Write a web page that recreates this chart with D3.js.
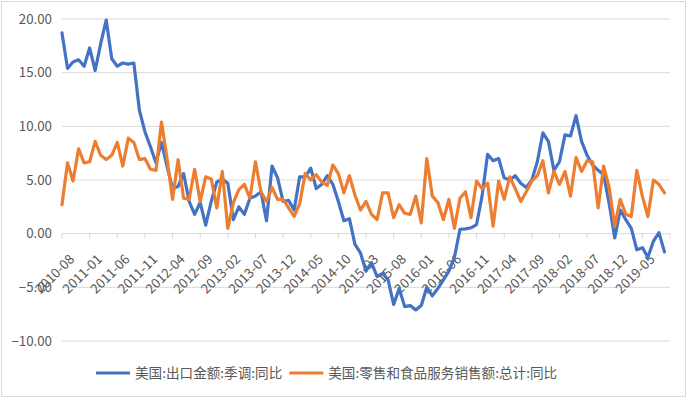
<!DOCTYPE html>
<html>
<head>
<meta charset="utf-8">
<script src="https://cdn.jsdelivr.net/npm/d3@7"></script>
<style>
body{margin:0;background:#fff;}
.chart text{font-family:"Noto Sans CJK SC","Noto Sans",sans-serif;fill:#595959;}
</style>
</head>
<body>
<div class="chart"></div>
<script>
//Data: monthly YoY %, 2010-08 .. 2019-09 (axis runs to 2019-10, empty)
const months = d3.timeMonth.range(new Date(2010,7,1), new Date(2019,10,1)).map(d3.timeFormat('%Y-%m'));

const exportYoY = [
	18.7,15.4,16.0,16.2,15.6,17.3,15.2,17.7,19.9,16.3,
	15.6,15.9,15.8,15.9,11.5,9.5,8.1,6.6,8.5,6.3,
	4.2,4.4,5.6,3.0,1.8,2.9,0.8,3.0,4.8,5.1,
	4.7,1.3,2.5,1.8,3.3,3.5,3.9,1.2,6.3,5.2,
	3.0,3.1,2.2,5.3,5.3,6.1,4.2,4.6,5.4,4.6,
	3.0,1.2,1.4,-1.0,-1.8,-3.5,-2.7,-4.0,-3.7,-4.3,
	-6.6,-5.1,-6.8,-6.7,-7.1,-6.7,-5.0,-5.8,-5.1,-4.3,
	-3.5,-2.2,0.4,0.45,0.55,0.85,3.5,7.4,6.8,7.0,
	5.2,5.0,5.4,4.7,4.3,5.0,6.7,9.4,8.6,5.9,
	6.7,9.2,9.1,11.0,8.6,7.3,6.4,5.9,5.5,2.8,
	-0.4,2.2,1.3,0.5,-1.5,-1.3,-2.2,-0.7,0.1,-1.7
];

const retailYoY = [
	2.7,6.6,4.9,7.9,6.6,6.7,8.6,7.3,6.9,7.3,
	8.5,6.3,8.9,8.5,6.9,7.0,6.0,5.9,10.4,7.0,
	3.2,6.9,3.3,3.2,6.0,3.0,5.3,5.1,2.4,5.8,
	0.5,2.9,4.1,4.6,3.3,6.7,3.9,3.0,4.3,3.2,
	3.2,2.4,1.6,2.8,5.6,5.0,5.5,4.8,4.5,6.4,
	5.6,3.8,5.4,3.6,2.2,3.0,1.8,1.3,3.8,3.8,
	1.5,2.7,1.9,1.8,3.5,1.0,7.0,3.5,2.9,1.3,
	3.2,0.5,3.3,3.9,1.5,4.9,4.2,4.7,0.7,4.9,
	3.2,5.3,4.2,3.0,3.9,4.9,5.4,6.8,3.8,5.8,
	4.6,5.8,3.5,7.1,5.8,6.8,6.7,2.4,6.3,4.3,
	0.7,3.2,1.8,1.6,5.9,3.5,1.6,5.0,4.6,3.8
];

const tickLabels = ['2010-08','2011-01','2011-06','2011-11','2012-04','2012-09','2013-02','2013-07',
	'2013-12','2014-05','2014-10','2015-03','2015-08','2016-01','2016-06','2016-11','2017-04',
	'2017-09','2018-02','2018-07','2018-12','2019-05'];
const tickMarks = tickLabels.concat(['2019-10']);
const yTicks = [20,15,10,5,0,-5,-10];

const seriesNames = ['美国:出口金额:季调:同比','美国:零售和食品服务销售额:总计:同比'];
const seriesColors = ['#4472C4','#ED7D31'];
const seriesValues = [exportYoY, retailYoY];

//Prep work
const W = 688, H = 398;
const svg = d3.select('.chart')
	.append('svg')
		.attr('width', W)
		.attr('height', H);

svg.append('rect')
	.attr('x', 1.5).attr('y', 1.5)
	.attr('width', W - 4).attr('height', H - 3)
	.style('fill', '#fff')
	.style('stroke', '#d9d9d9');

const scaleX = d3.scalePoint().domain(months).range([62, 670]);
const scaleY = d3.scaleLinear().domain([-10, 20]).range([341, 19]);

//Gridlines and y labels
const yAxis = svg.append('g').attr('class','y-axis');
yAxis.selectAll('line')
	.data(yTicks)
	.enter()
	.append('line')
		.attr('x1', 62).attr('x2', 670)
		.attr('y1', d => scaleY(d)).attr('y2', d => scaleY(d))
		.style('stroke', '#d9d9d9')
		.style('stroke-width', 1);
yAxis.selectAll('text')
	.data(yTicks)
	.enter()
	.append('text')
		.attr('x', 52)
		.attr('y', d => scaleY(d))
		.attr('dy', '0.35em')
		.attr('text-anchor', 'end')
		.style('font-size', '13.3px')
		.text(d => d3.format('.2f')(d));

//Category axis on zero
const xAxis = svg.append('g').attr('class','x-axis');
xAxis.selectAll('line')
	.data(tickMarks)
	.enter()
	.append('line')
		.attr('x1', d => scaleX(d)).attr('x2', d => scaleX(d))
		.attr('y1', scaleY(0)).attr('y2', scaleY(0) + 5)
		.style('stroke', '#d9d9d9');
xAxis.selectAll('text')
	.data(tickLabels)
	.enter()
	.append('text')
		.attr('transform', d => `translate(${scaleX(d) + 10}, ${scaleY(0) + 23}) rotate(-45)`)
		.attr('dy', '0.35em')
		.attr('text-anchor', 'end')
		.style('font-size', '13.3px')
		.text(d => d);

//Series
const line = d3.line()
	.x((d, i) => scaleX(months[i]))
	.y(d => scaleY(d))
	.defined(d => d != null);

svg.selectAll('.series')
	.data(seriesValues)
	.enter()
	.append('path')
		.attr('class', 'series')
		.attr('d', line)
		.style('fill', 'none')
		.style('stroke', (d, i) => seriesColors[i])
		.style('stroke-width', 3.2)
		.style('stroke-linejoin', 'round')
		.style('stroke-linecap', 'round');

//Legend
const legend = svg.append('g').attr('class','legend');
let lx = 96;
seriesNames.forEach(function(name, i){
	legend.append('line')
		.attr('x1', lx).attr('x2', lx + 34)
		.attr('y1', 373).attr('y2', 373)
		.style('stroke', seriesColors[i])
		.style('stroke-width', 3.2);
	const t = legend.append('text')
		.attr('x', lx + 39)
		.attr('y', 373)
		.attr('dy', '0.35em')
		.style('font-size', '13.6px')
		.text(name);
	lx += 39 + t.node().getComputedTextLength() + 7;
});
</script>
</body>
</html>
